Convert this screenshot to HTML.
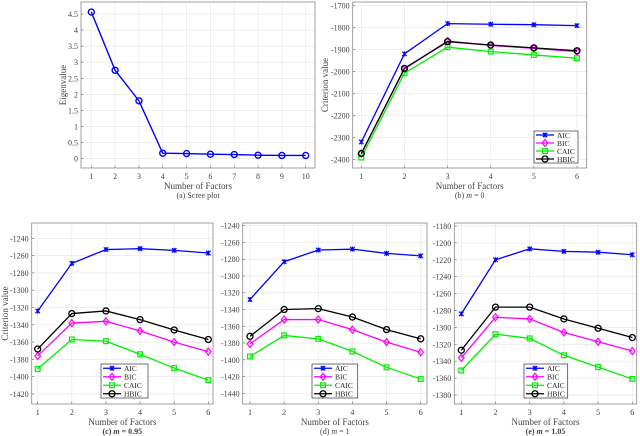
<!DOCTYPE html>
<html><head><meta charset="utf-8">
<style>
html,body{margin:0;padding:0;background:#fff;width:640px;height:436px;overflow:hidden}
svg{display:block;font-family:"Liberation Serif",serif}
</style></head>
<body>
<svg id="chart" width="640" height="436" viewBox="0 0 640 436" xmlns="http://www.w3.org/2000/svg"></svg>
<script>
// ---- data ----
const screeFactors = [1,2,3,4,5,6,7,8,9,10];
const screeEigen = [4.56,2.75,1.8,0.17,0.16,0.14,0.13,0.11,0.10,0.10];
const screeYTicks = [0,0.5,1,1.5,2,2.5,3,3.5,4,4.5];
const factors = [1,2,3,4,5,6];
const seriesNames = ["AIC","BIC","CAIC","HBIC"];
const bAIC = [-2320,-1920,-1783,-1786,-1788,-1792];
const bBIC = [-2372,-1988,-1862,-1882,-1895,-1910];
const bCAIC = [-2390,-2008,-1890,-1910,-1925,-1940];
const bHBIC = [-2372,-1986,-1865,-1880,-1893,-1906];
const bTicks = [-2400,-2300,-2200,-2100,-2000,-1900,-1800,-1700];
const cAIC = [-1324,-1269,-1253,-1252,-1254,-1257];
const cBIC = [-1376,-1338,-1336,-1347,-1360,-1371];
const cCAIC = [-1391,-1357,-1359,-1374,-1390,-1404];
const cHBIC = [-1368,-1327,-1324,-1334,-1346,-1357];
const cTicks = [-1420,-1400,-1380,-1360,-1340,-1320,-1300,-1280,-1260,-1240];
const dAIC = [-1328,-1283,-1269,-1268,-1273,-1276];
const dBIC = [-1381,-1352,-1352,-1364,-1379,-1391];
const dCAIC = [-1396,-1371,-1375,-1390,-1409,-1423];
const dHBIC = [-1372,-1340,-1339,-1349,-1364,-1375];
const dTicks = [-1440,-1420,-1400,-1380,-1360,-1340,-1320,-1300,-1280,-1260,-1240];
const eAIC = [-1284,-1220,-1207,-1210,-1211,-1214];
const eBIC = [-1336,-1288,-1290,-1306,-1317,-1328];
const eCAIC = [-1351,-1308,-1313,-1333,-1347,-1361];
const eHBIC = [-1327,-1276,-1276,-1290,-1301,-1312];
const eTicks = [-1380,-1360,-1340,-1320,-1300,-1280,-1260,-1240,-1220,-1200,-1180];

const NS="http://www.w3.org/2000/svg";
const svg=document.getElementById('chart');
function mk(tag,attrs,parent,name){const e=document.createElementNS(NS,tag);for(const k in attrs)e.setAttribute(k,attrs[k]);(parent||svg).appendChild(e);


return e;}
function txt(s,x,y,size,anchor,parent,name,extra){const t=mk('text',Object.assign({x:x,y:y,'font-size':size,'text-anchor':anchor,fill:'#444'},extra||{}),parent,name);t.textContent=s;return t;}

const colors={AIC:'#0000ff',BIC:'#ff00ff',CAIC:'#00ee00',HBIC:'#000000'};

function marker(g,type,x,y,c,name){
  if(type==='x'){mk('path',{d:`M${x-2.2},${y-2.2}L${x+2.2},${y+2.2}M${x-2.2},${y+2.2}L${x+2.2},${y-2.2}M${x},${y-2.5}L${x},${y+2.5}`,stroke:c,'stroke-width':1.2,fill:'none'},g,name);}
  else if(type==='d'){mk('path',{d:`M${x},${y-3.5}L${x+2.8},${y}L${x},${y+3.5}L${x-2.8},${y}Z`,stroke:c,'stroke-width':1.2,fill:'none'},g,name);}
  else if(type==='s'){mk('rect',{x:x-2.4,y:y-2.4,width:4.8,height:4.8,stroke:c,'stroke-width':1.2,fill:'none'},g,name);}
  else {mk('circle',{cx:x,cy:y,r:3,stroke:c,'stroke-width':1.3,fill:'none'},g,name);}
}

function panel(o){
  const g=mk('g',{},svg,o.name);
  const xs=v=>o.xA+(v-o.vxA)*(o.xB-o.xA)/(o.vxB-o.vxA);
  const ys=v=>o.yA+(v-o.vyA)*(o.yB-o.yA)/(o.vyB-o.vyA);
  mk('rect',{x:o.x0,y:o.y0,width:o.x1-o.x0,height:o.y1-o.y0,fill:'#fff'},g,'plot-area');
  o.xt.forEach(v=>{const x=xs(v);mk('line',{x1:x,y1:o.y0,x2:x,y2:o.y1,stroke:'#e8e8e8','stroke-width':0.7},g,'x-grid-line');
    mk('line',{x1:x,y1:o.y1,x2:x,y2:o.y1-2.5,stroke:'#666','stroke-width':0.6},g,'x-tick');
    txt(String(v),x,o.y1+11,8,'middle',g,'x-tick-label');});
  o.yt.forEach(v=>{const y=ys(v);mk('line',{x1:o.x0,y1:y,x2:o.x1,y2:y,stroke:'#e8e8e8','stroke-width':0.7},g,'y-grid-line');
    mk('line',{x1:o.x0,y1:y,x2:o.x0+2.5,y2:y,stroke:'#666','stroke-width':0.6},g,'y-tick');
    txt(String(v),o.x0-3,y+3,8,'end',g,'y-tick-label');});
  mk('rect',{x:o.x0,y:o.y0,width:o.x1-o.x0,height:o.y1-o.y0,fill:'none',stroke:'#888','stroke-width':0.8},g,'axes-box');
  o.series.forEach(s=>{
    const pts=o.xv.map((xv,i)=>[xs(xv),ys(s.vals[i])]);
    mk('polyline',{points:pts.map(p=>p.join(',')).join(' '),fill:'none',stroke:s.color,'stroke-width':1.3},g,'line-'+s.label.toLowerCase());
    pts.forEach(p=>marker(g,s.m,p[0],p[1],s.color,'point-'+s.label.toLowerCase()));
  });
  txt('Number of Factors',(o.x0+o.x1)/2,o.y1+21,9,'middle',g,'x-axis-title');
  const cap=txt(o.cap1,(o.x0+o.x1)/2,o.y1+30,8,'middle',g,'caption',o.bold?{'font-weight':'bold'}:{});
  const tsp=mk('tspan',{'font-style':'italic'},cap,'caption-m');tsp.textContent=o.capM;
  const tsp2=mk('tspan',{},cap,'caption-value');tsp2.textContent=o.cap2;
  txt(o.ylab,o.ylx,(o.y0+o.y1)/2,9,'middle',g,'y-axis-title',{transform:`rotate(-90 ${o.ylx} ${(o.y0+o.y1)/2})`});
  if(o.leg){const L=o.leg;const lg=mk('g',{},g,'legend');
    mk('rect',{x:L[0],y:L[1],width:L[2]-L[0],height:L[3]-L[1],fill:'#fff',stroke:'#333','stroke-width':0.7},lg,'legend-box');
    const h=(L[3]-L[1])/4;
    o.series.forEach((s,i)=>{const y=L[1]+h*(i+0.5);
      mk('line',{x1:L[0]+2,y1:y,x2:L[0]+20,y2:y,stroke:s.color,'stroke-width':1.3},lg,'legend-line');
      marker(lg,s.m,L[0]+11,y,s.color,'legend-marker');
      txt(s.label,L[0]+23,y+2.8,7.5,'start',lg,'legend-entry-'+s.label.toLowerCase(),{fill:'#222'});});
  }
}
function mkSeries(a,b,c,d){const v=[a,b,c,d],m=['x','d','s','o'];return seriesNames.map((n,i)=>({label:n,vals:v[i],m:m[i],color:colors[n]}));}

// (a) scree
(function(){
  const g=mk('g',{},svg,'scree-plot');
  const x0=81,x1=315,y0=2,y1=168;
  const xs=v=>91.3+(v-1)*(305.7-91.3)/9, ys=v=>158.7+v*(14-158.7)/4.5;
  screeFactors.forEach(v=>{const x=xs(v);mk('line',{x1:x,y1:y0,x2:x,y2:y1,stroke:'#e8e8e8','stroke-width':0.7},g,'x-grid-line');
    mk('line',{x1:x,y1:y1,x2:x,y2:y1-2.5,stroke:'#666','stroke-width':0.6},g,'x-tick');
    txt(String(v),x,y1+11,8,'middle',g,'x-tick-label');});
  screeYTicks.forEach(v=>{const y=ys(v);mk('line',{x1:x0,y1:y,x2:x1,y2:y,stroke:'#e8e8e8','stroke-width':0.7},g,'y-grid-line');
    mk('line',{x1:x0,y1:y,x2:x0+2.5,y2:y,stroke:'#666','stroke-width':0.6},g,'y-tick');
    txt(String(v),x0-3,y+3,8,'end',g,'y-tick-label');});
  mk('rect',{x:x0,y:y0,width:x1-x0,height:y1-y0,fill:'none',stroke:'#888','stroke-width':0.8},g,'axes-box');
  const pts=screeFactors.map((f,i)=>[xs(f),ys(screeEigen[i])]);
  mk('polyline',{points:pts.map(p=>p.join(',')).join(' '),fill:'none',stroke:'#0000ff','stroke-width':1.4},g,'eigenvalue-line');
  pts.forEach(p=>mk('circle',{cx:p[0],cy:p[1],r:3,fill:'none',stroke:'#0000ff','stroke-width':1.4},g,'eigenvalue-point'));
  txt('Number of Factors',(x0+x1)/2,189,9,'middle',g,'x-axis-title');
  txt('(a) Scree plot',(x0+x1)/2,198,8,'middle',g,'caption');
  txt('Eigenvalue',66,85,9,'middle',g,'y-axis-title',{transform:'rotate(-90 66 85)'});
})();

panel({name:'panel-b',x0:352.7,x1:586.7,y0:2,y1:168,xA:361.3,xB:577,vxA:1,vxB:6,yA:159.7,yB:5.3,vyA:-2400,vyB:-1700,
  xt:factors,xv:factors,yt:bTicks,series:mkSeries(bAIC,bBIC,bCAIC,bHBIC),cap1:'(b) ',capM:'m',cap2:' = 0',ylab:'Criterion value',ylx:328,leg:[534,131,578,163]});
panel({name:'panel-c',x0:31.7,x1:213,y0:223,y1:404,xA:37.7,xB:208.3,vxA:1,vxB:6,yA:238.3,yB:394,vyA:-1240,vyB:-1420,
  xt:factors,xv:factors,yt:cTicks,series:mkSeries(cAIC,cBIC,cCAIC,cHBIC),cap1:'(c) ',capM:'m',cap2:' = 0.95',bold:true,ylab:'Criterion value',ylx:8,leg:[101,364,148,398]});
panel({name:'panel-d',x0:242.7,x1:427,y0:223,y1:404,xA:250,xB:420.7,vxA:1,vxB:6,yA:225.7,yB:393.3,vyA:-1240,vyB:-1440,
  xt:factors,xv:factors,yt:dTicks,series:mkSeries(dAIC,dBIC,dCAIC,dHBIC),cap1:'(d) ',capM:'m',cap2:' = 1',ylab:'',ylx:220,leg:[312,364,357.7,398]});
panel({name:'panel-e',x0:454.3,x1:636.7,y0:223,y1:404,xA:461.3,xB:632.3,vxA:1,vxB:6,yA:226,yB:395,vyA:-1180,vyB:-1380,
  xt:factors,xv:factors,yt:eTicks,series:mkSeries(eAIC,eBIC,eCAIC,eHBIC),cap1:'(e) ',capM:'m',cap2:' = 1.05',bold:true,ylab:'',ylx:430,leg:[524,364,567.7,398]});
</script>
</body></html>
